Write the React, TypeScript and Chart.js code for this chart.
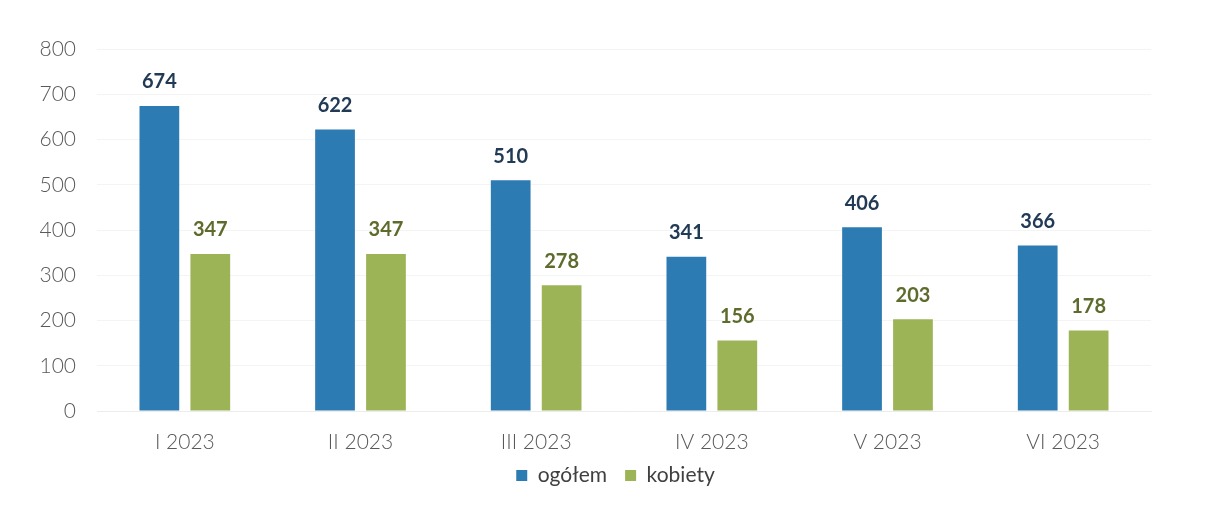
import React, { useEffect, useRef } from "react";
import { Chart, registerables } from "chart.js";

Chart.register(...registerables);

const categories = ["I 2023", "II 2023", "III 2023", "IV 2023", "V 2023", "VI 2023"];
const ogolem = [674, 622, 510, 341, 406, 366];
const kobiety = [347, 347, 278, 156, 203, 178];
const seriesNames = ["ogółem", "kobiety"];
const barColors = ["#2c7bb2", "#9cb456"];
const labelColors = ["#213a55", "#5d6b2c"];

const FONT = "Lato, 'Open Sans', sans-serif";

const valueLabels = {
  id: "valueLabels",
  afterDatasetsDraw(chart: any) {
    const ctx = chart.ctx;
    ctx.save();
    ctx.font = `bold 20px ${FONT}`;
    ctx.textAlign = "center";
    ctx.textBaseline = "bottom";
    chart.data.datasets.forEach((ds: any, di: number) => {
      const meta = chart.getDatasetMeta(di);
      meta.data.forEach((bar: any, i: number) => {
        ctx.fillStyle = labelColors[di];
        ctx.fillText(String(ds.data[i]), bar.x, bar.y - 14);
      });
    });
    ctx.restore();
  },
};

const shiftLegend = {
  id: "shiftLegend",
  afterLayout(chart: any) {
    const lg = chart.legend;
    if (!lg) return;
    lg.left += 40;
    lg.right += 40;
    lg.top -= 10;
    lg.bottom -= 10;
  },
};

export default function App() {
  const ref = useRef<HTMLCanvasElement | null>(null);
  useEffect(() => {
    if (!ref.current) return;
    const chart = new Chart(ref.current, {
      type: "bar",
      data: {
        labels: categories,
        datasets: [
          { label: seriesNames[0], data: ogolem, backgroundColor: barColors[0] },
          { label: seriesNames[1], data: kobiety, backgroundColor: barColors[1] },
        ],
      },
      options: {
        animation: false,
        responsive: true,
        maintainAspectRatio: false,
        layout: { padding: { left: 0, right: 57, top: 49, bottom: 0 } },
        datasets: { bar: { categoryPercentage: 0.58, barPercentage: 0.78 } } as any,
        plugins: {
          legend: {
            position: "bottom",
            labels: {
              boxWidth: 11,
              boxHeight: 11,
              padding: 18,
              color: "#404040",
              font: { family: FONT, size: 21 },
            },
          },
          tooltip: { enabled: false },
        },
        scales: {
          x: {
            grid: { display: false, drawTicks: false },
            border: { display: true, color: "#ececec" },
            ticks: { color: "#595959", font: { family: FONT, size: 21, weight: 300 }, padding: 19 },
            afterFit: (s: any) => { s.height = 46; },
          } as any,
          y: {
            min: 0,
            max: 800,
            grid: { color: "rgba(0,0,0,0.045)", drawTicks: false },
            border: { display: false },
            ticks: { stepSize: 100, color: "#595959", font: { family: FONT, size: 21, weight: 300 }, padding: 21 },
            afterFit: (s: any) => { s.width = 97; },
          } as any,
        },
      },
      plugins: [valueLabels, shiftLegend],
    });
    return () => chart.destroy();
  }, []);
  return (
    <div style={{ position: "fixed", left: 0, top: 0, width: 1208, height: 506, background: "#fff" }}>
      <canvas ref={ref} />
    </div>
  );
}
